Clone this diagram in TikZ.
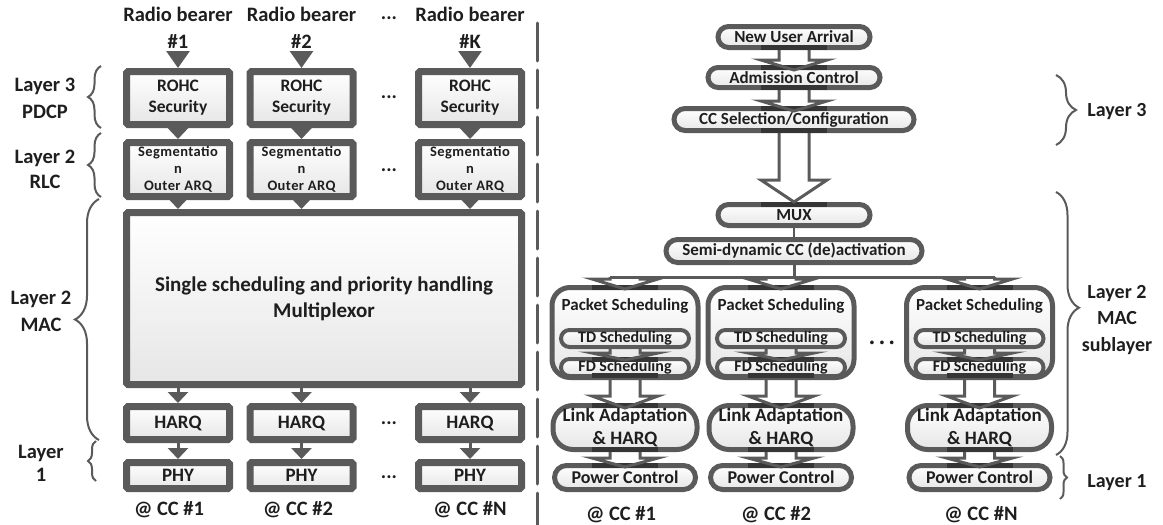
\documentclass[tikz,border=0pt]{standalone}
\usepackage{fontspec}
\setmainfont{Carlito}
\usetikzlibrary{arrows.meta,shapes.misc,shadows,decorations.pathreplacing,calc}

\definecolor{edge}{HTML}{5A5A5A}
\definecolor{ink}{HTML}{1E1E1E}
\definecolor{shadeb}{HTML}{E6E6E6}
\definecolor{shadem}{HTML}{F8F8F8}
\definecolor{barc}{HTML}{353535}

\newcommand{\fs}[2]{\fontsize{#1}{#2}\selectfont}

% hollow block arrow from point #1 down to node #2; tip sits #3 inside the
% target's top edge, head length #4
\newcommand{\blockarr}[4]{%
  \draw[bar] ([xshift=-33pt,yshift=-2.5pt]#2.north) -- ([xshift=33pt,yshift=-2.5pt]#2.north);
  \draw[blk] let \p1=(#1), \p2=([yshift=-#3]#2.north) in
    (\x2-15pt,\y1) -- (\x2-15pt,\y2+#4) -- (\x2-33pt,\y2+#4) -- (\x2,\y2)
    -- (\x2+33pt,\y2+#4) -- (\x2+15pt,\y2+#4) -- (\x2+15pt,\y1);
}
\newcommand{\srcbar}[1]{%
  \draw[bar] ([xshift=-33pt,yshift=2.5pt]#1.south) -- ([xshift=33pt,yshift=2.5pt]#1.south);
}

\tikzset{
  base/.style={font=\bfseries, text=ink, inner sep=0pt, align=center},
  shadowed/.style={drop shadow={opacity=0.2, shadow xshift=1.5pt, shadow yshift=-1.5pt}},
  softfill/.style={top color=white, middle color=shadem, bottom color=shadeb},
  lbox/.style={base, rectangle, draw=edge, line width=7pt, rounded corners=1.5pt,
    softfill, shadowed},
  pill/.style={base, rounded rectangle, draw=edge, line width=5pt, softfill, shadowed},
  rbox/.style={base, rectangle, rounded corners=18pt, draw=edge, line width=5pt,
    softfill, shadowed},
  lbl/.style={base},
  larr/.style={draw=edge, line width=3pt, -{Triangle[width=20pt,length=11pt]}},
  toparr/.style={draw=edge, line width=3pt, shorten <=2pt, -{Triangle[width=23pt,length=17pt]}},
  blk/.style={draw=edge, line width=3pt, line join=miter},
  bar/.style={draw=barc, line width=5pt},
  wire/.style={draw=edge, line width=3pt},
  brc/.style={draw=edge, line width=2pt, decorate, decoration={brace, amplitude=#1}},
  divider/.style={draw=edge, line width=3pt, dash pattern=on 38pt off 9pt, line cap=round}
}

\begin{document}
\begin{tikzpicture}[x=1pt,y=-1pt]
\useasboundingbox (0,0) rectangle (1163,525);

% ---------------- left half: per-bearer protocol stack ----------------
\foreach \i/\x/\h in {1/178/\#1, 2/301.5/\#2, 3/470/\#K} {
  \node[lbl, font=\bfseries\fs{20.5}{27}] (hd\i) at (\x,28) {Radio bearer\\\h};
  \node[lbox, minimum width=103pt, minimum height=53pt, font=\bfseries\fs{17.5}{21}]
    (rohc\i) at (\x,98) {ROHC\\Security};
  \node[lbox, minimum width=103pt, minimum height=54pt,
    font=\bfseries\fs{14.5}{17}\addfontfeature{LetterSpace=3}]
    (seg\i) at (\x,169.5) {Segmentatio\\n\\Outer ARQ};
  \node[lbox, minimum width=103pt, minimum height=33pt, font=\bfseries\fs{19}{22}]
    (harq\i) at (\x,423) {HARQ};
  \node[lbox, minimum width=103pt, minimum height=26pt, font=\bfseries\fs{19}{22}]
    (phy\i) at (\x,475.5) {PHY};
}

\node[lbox, minimum width=395pt, minimum height=172pt, font=\bfseries\fs{21}{26}]
  (big) at (324,298.5) {Single scheduling and priority handling\\Multiplexor};

\foreach \i in {1,2,3} {
  \draw[toparr] (hd\i) -- (rohc\i);
  \draw[larr] (rohc\i) -- (seg\i);
  \draw[larr] (seg\i.south) -- (seg\i.south |- big.north);
  \draw[larr] (big.south -| harq\i.north) -- (harq\i.north);
  \draw[larr] (harq\i) -- (phy\i);
}

% ellipses between the second and last column
\foreach \n/\y in {0/18, 1/97, 2/170, 3/423, 4/477}
  \node[lbl, font=\bfseries\fs{20}{20}] (ldots\n) at (389,\y) {...};

\node[lbl, font=\bfseries\fs{20.5}{24}] (lcc1) at (169,510) {@ CC \#1};
\node[lbl, font=\bfseries\fs{20.5}{24}] (lcc2) at (298,510) {@ CC \#2};
\node[lbl, font=\bfseries\fs{20.5}{24}] (lcc3) at (470,510) {@ CC \#N};

% layer labels and braces
\node[lbl, font=\bfseries\fs{20.5}{27}] (ll3) at (45,98.5) {Layer 3\\PDCP};
\node[lbl, font=\bfseries\fs{20.5}{25}] (ll2r) at (45,169.5) {Layer 2\\RLC};
\node[lbl, font=\bfseries\fs{20.5}{27}] (ll2m) at (41,311.5) {Layer 2\\MAC};
\node[lbl, font=\bfseries\fs{20.5}{23}] (ll1) at (41,463.5) {Layer\\1};

\draw[brc=13pt] (101,128) -- (101,66);
\draw[brc=13pt] (101,197) -- (101,133);
\draw[brc=24pt] (99,440) -- (99,199);
\draw[brc=8pt] (96,481) -- (96,441);

% separator
\coordinate (sepA) at (537,23);
\coordinate (sepB) at (537,525);
\draw[divider] (sepA) -- (sepB);

% ---------------- right half: RRM functions ----------------
\node[pill, minimum width=152pt, minimum height=21pt, font=\bfseries\fs{17}{20}]
  (nua) at (794,37) {New User Arrival};
\node[pill, minimum width=172pt, minimum height=20pt, font=\bfseries\fs{17}{20}]
  (adm) at (794,77.5) {Admission Control};
\node[pill, minimum width=240pt, minimum height=22pt, font=\bfseries\fs{17}{20}]
  (ccs) at (794,119.5) {CC Selection/Configuration};
\node[pill, minimum width=152pt, minimum height=21pt, font=\bfseries\fs{17}{20}]
  (mx) at (794,215) {MUX};
\node[pill, minimum width=256pt, minimum height=23pt, font=\bfseries\fs{17}{20}]
  (semi) at (794,251) {Semi-dynamic CC (de)activation};

\coordinate (b1) at (610,277);
\coordinate (b3) at (994.5,277);
\draw[wire, line width=2.5pt] (mx) -- (semi);
\draw[wire] (semi.south) -- (semi.south |- b1);
\draw[wire] (b1) -- (b3);

\foreach \i/\x/\c/\t in {1/625/621/\#1, 2/781/776/\#2, 3/979.5/981/\#N} {
  \node[rbox, minimum width=146pt, minimum height=90pt] (ps\i) at (\x,332.5) {};
  \node[lbl, font=\bfseries\fs{17}{20}] (pst\i) at (\x,306) {Packet Scheduling};
  \node[pill, line width=4pt, minimum width=128pt, minimum height=17pt, font=\bfseries\fs{16}{19}]
    (td\i) at (\x,338.5) {TD Scheduling};
  \node[pill, line width=4pt, minimum width=128pt, minimum height=17pt, font=\bfseries\fs{16}{19}]
    (fd\i) at (\x,367.5) {FD Scheduling};
  \node[rbox, rounded corners=20pt, minimum width=144pt, minimum height=44pt, font=\bfseries\fs{19}{23}]
    (la\i) at (\x,427.5) {Link Adaptation\\\& HARQ};
  \node[pill, minimum width=141pt, minimum height=24pt, font=\bfseries\fs{18}{21}]
    (pc\i) at (\x,477.5) {Power Control};
  \node[lbl, font=\bfseries\fs{20.5}{24}] (rcc\i) at (\c,515) {@ CC \t};
}

\node[lbl, font=\bfseries\fs{20}{20}] (rdots) at (882,345) {· · ·};

% block arrows
\srcbar{nua}
\blockarr{nua.south}{adm}{5pt}{10pt}
\srcbar{adm}
\blockarr{adm.south}{ccs}{5pt}{10pt}
\srcbar{ccs}
\blockarr{ccs.south}{mx}{0pt}{22pt}
\foreach \i in {1,2,3} {
  \coordinate (bt\i) at (ps\i.north |- b1);
  \blockarr{bt\i}{ps\i}{4pt}{10pt}
  \blockarr{td\i.south}{fd\i}{3pt}{7pt}
  \srcbar{fd\i}
  \blockarr{fd\i.south}{la\i}{5pt}{12pt}
  \srcbar{la\i}
  \blockarr{la\i.south}{pc\i}{4pt}{9pt}
}

% layer labels and braces
\node[lbl, font=\bfseries\fs{20}{24}] (rl3) at (1117,112) {Layer 3};
\node[lbl, font=\bfseries\fs{20}{26.5}] (rl2) at (1117,320) {Layer 2\\MAC\\sublayer};
\node[lbl, font=\bfseries\fs{20}{24}] (rl1) at (1117,483) {Layer 1};

\draw[brc=20pt] (1056,75) -- (1056,145);
\draw[draw=edge, line width=2pt, decorate, decoration={brace, amplitude=23pt, aspect=0.44}]
  (1056,192) -- (1056,455);
\draw[brc=7pt] (1060,456) -- (1060,499);

\end{tikzpicture}
\end{document}
